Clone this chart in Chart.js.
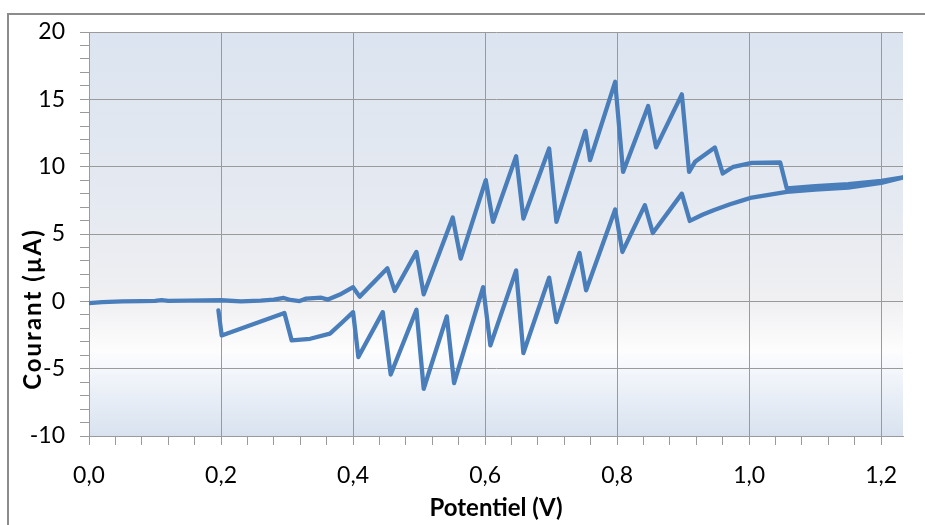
<!DOCTYPE html>
<html>
<head>
<meta charset="utf-8">
<script src="https://cdn.jsdelivr.net/npm/chart.js@4.4.1/dist/chart.umd.min.js"></script>
<style>
html,body{margin:0;padding:0;background:#fff;}
#wrap{width:925px;height:525px;position:relative;}
</style>
</head>
<body>
<div id="wrap"><canvas id="c" width="925" height="525"></canvas></div>
<script>
// Potential (V) and current (µA), in scan order (forward then reverse)
const potentiel = [
  0.000,0.020,0.050,0.080,0.100,0.110,0.120,0.150,0.200,0.230,0.260,0.280,0.295,0.305,0.319,0.329,0.352,0.362,0.380,0.400,
  0.410,0.452,0.463,0.496,0.507,0.551,0.563,0.601,0.612,0.647,0.658,0.697,0.708,0.752,0.759,0.797,0.809,0.847,0.859,0.898,
  0.909,0.918,0.948,0.960,0.976,1.004,1.047,1.057,1.100,1.150,1.200,1.233,
  1.200,1.150,1.100,1.057,1.004,0.990,0.971,0.946,0.930,0.910,0.898,0.854,0.842,0.808,0.797,0.753,0.743,0.708,0.697,0.658,
  0.647,0.608,0.597,0.553,0.542,0.507,0.496,0.457,0.445,0.408,0.400,0.385,0.365,0.335,0.307,0.296,0.201,0.196
];
const courant = [
  -0.13,-0.06,0.00,0.02,0.04,0.09,0.03,0.05,0.08,0.00,0.05,0.12,0.25,0.10,0.02,0.20,0.27,0.13,0.50,1.05,
  0.35,2.45,0.77,3.67,0.52,6.22,3.17,9.00,5.90,10.78,6.15,11.35,5.90,12.66,10.48,16.30,9.61,14.50,11.43,15.37,
  9.61,10.36,11.43,9.49,9.99,10.28,10.31,8.38,8.55,8.70,8.95,9.20,
  8.80,8.45,8.30,8.13,7.71,7.50,7.21,6.77,6.45,5.97,8.00,5.08,7.14,3.67,6.82,0.82,3.59,-1.54,1.76,-3.84,
  2.30,-3.27,1.06,-6.07,-1.12,-6.49,-0.62,-5.43,-0.80,-4.14,-0.80,-1.50,-2.40,-2.78,-2.90,-0.87,-2.53,-0.67
];
const xTickValues = [0.0,0.2,0.4,0.6,0.8,1.0,1.2];
const yTickValues = [-10,-5,0,5,10,15,20];
const xTitle = 'Potentiel (V)';
const yTitle = 'Courant (µA)';

const points = potentiel.map((v,i)=>({x:v,y:courant[i]}));
const FONT = 'Lato, "Liberation Sans", sans-serif';
const GRID = '#9a9a9a';

function isMajor(v, list){ return list.some(t=>Math.abs(t-v)<1e-6); }

const bgPlugin = {
  id:'bg',
  beforeDraw(chart){
    const {ctx, chartArea:a} = chart;
    ctx.save();
    ctx.fillStyle='#fff';
    ctx.fillRect(0,0,chart.width,chart.height);
    const g = ctx.createLinearGradient(0,a.top,0,a.bottom);
    g.addColorStop(0,'#dbe4f0');
    g.addColorStop(0.45,'#e6eaf1');
    g.addColorStop(0.67,'#f0f0f2');
    g.addColorStop(0.79,'#fdfdfe');
    g.addColorStop(0.84,'#f3f6fb');
    g.addColorStop(1,'#d8e2ef');
    ctx.fillStyle=g;
    ctx.fillRect(a.left,a.top,a.right-a.left,a.bottom-a.top);
    ctx.restore();
  },
  afterDraw(chart){
    const ctx=chart.ctx, a=chart.chartArea;
    ctx.save();
    ctx.strokeStyle='#8c8c8c';
    ctx.lineWidth=2;
    ctx.beginPath();
    ctx.moveTo(8,600); ctx.lineTo(8,14); ctx.lineTo(930,14);
    ctx.stroke();
    ctx.fillStyle='#000';
    ctx.font='bold 24px '+FONT;
    ctx.textAlign='center';
    ctx.textBaseline='alphabetic';
    // x axis title
    ctx.fillText(xTitle,(a.left+a.right)/2,516);
    // y axis title
    ctx.translate(41,310);
    ctx.rotate(-Math.PI/2);
    try{ ctx.letterSpacing='2px'; }catch(e){}
    ctx.fillText(yTitle,1,0);
    ctx.restore();
  }
};

new Chart(document.getElementById('c'),{
  type:'scatter',
  data:{datasets:[{
    data:points,
    showLine:true,
    borderColor:'#4a7ebb',
    borderWidth:4.3,
    pointRadius:0,
    tension:0,
    borderJoinStyle:'round',
    borderCapStyle:'round',
    fill:false
  }]},
  options:{
    responsive:false,
    animation:false,
    devicePixelRatio:1,
    layout:{padding:{top:32,right:22,left:0,bottom:0}},
    plugins:{legend:{display:false},tooltip:{enabled:false}},
    scales:{
      x:{
        type:'linear',min:0,max:1.233,
        afterBuildTicks(s){
          const t=[]; for(let i=0;i<=30;i++){ t.push({value:Math.round(i*0.04*1000)/1000}); }
          s.ticks=t;
        },
        afterFit(s){ s.height=89; },
        grid:{
          color:(c)=> (c.tick && isMajor(c.tick.value,xTickValues)) ? GRID : 'rgba(0,0,0,0)',
          tickColor:GRID, tickLength:9, lineWidth:1, drawTicks:true
        },
        border:{display:true,color:GRID,width:1},
        ticks:{
          autoSkip:false,maxRotation:0,padding:17,color:'#000',
          font:{family:FONT,size:23},
          callback:(v)=> isMajor(v,xTickValues) ? v.toFixed(1).replace('.',',') : ''
        },
        title:{display:false,text:xTitle}
      },
      y:{
        type:'linear',min:-10,max:20,
        afterBuildTicks(s){
          const t=[]; for(let v=-10;v<=20;v++){ t.push({value:v}); }
          s.ticks=t;
        },
        afterFit(s){ s.width=89; },
        grid:{
          color:(c)=> (c.tick && isMajor(c.tick.value,yTickValues)) ? GRID : 'rgba(0,0,0,0)',
          tickColor:GRID, tickLength:9, lineWidth:1
        },
        border:{display:true,color:GRID,width:1},
        ticks:{
          autoSkip:false,padding:15,color:'#000',
          font:{family:FONT,size:23},
          callback:(v)=> isMajor(v,yTickValues) ? String(v) : ''
        },
        title:{display:false,text:yTitle}
      }
    }
  },
  plugins:[bgPlugin]
});
</script>
</body>
</html>
